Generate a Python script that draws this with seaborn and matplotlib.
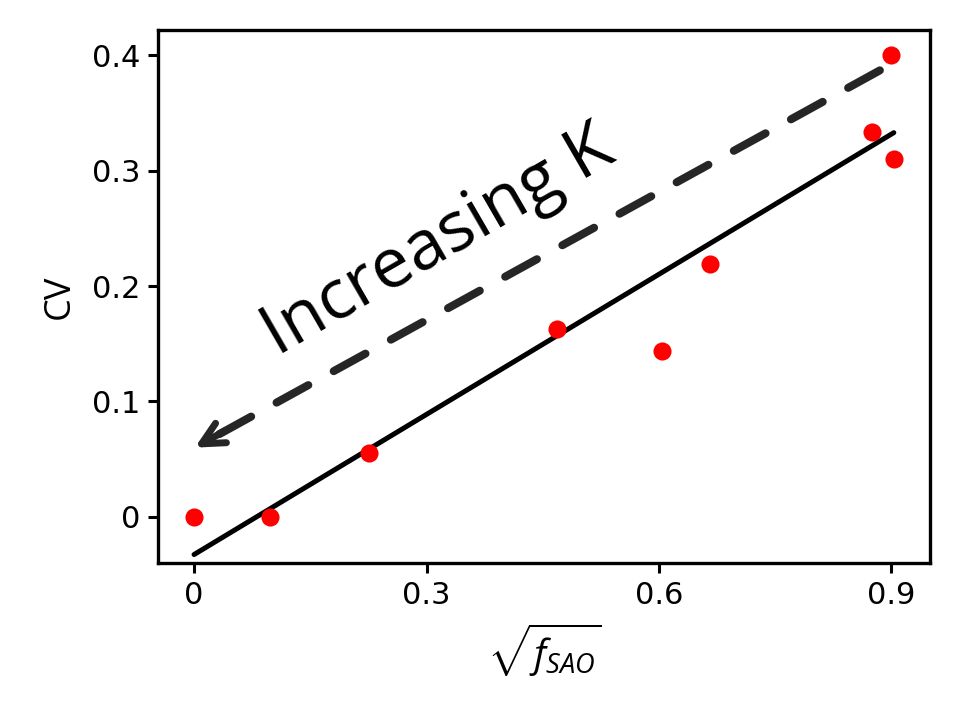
import matplotlib
matplotlib.use('Agg')
import matplotlib.pyplot as plt
import numpy as np
import pandas as pd
import seaborn as sns

##
# values
sqrt_fsao = [0.0, 0.098, 0.226, 0.468, 0.604, 0.666, 0.875, 0.899, 0.903]
cv = [0.0, 0.0, 0.055, 0.163, 0.144, 0.219, 0.334, 0.400, 0.310]

xticks = [0, 0.3, 0.6, 0.9]
xtick_labels = ['0', '0.3', '0.6', '0.9']
yticks = [0, 0.1, 0.2, 0.3, 0.4]
ytick_labels = ['0', '0.1', '0.2', '0.3', '0.4']

arrow_tail = (0.885, 0.387)
arrow_tip = (0.001, 0.060)
label_pos = (0.316, 0.238)

df = pd.DataFrame({'x': sqrt_fsao, 'y': cv})

##
sns.set_style('white')
plt.rcParams['font.family'] = ['DejaVu Sans']
plt.rcParams['text.color'] = 'black'
plt.rcParams['axes.labelcolor'] = 'black'
plt.rcParams['xtick.color'] = 'black'
plt.rcParams['ytick.color'] = 'black'
plt.rcParams['mathtext.fontset'] = 'custom'
plt.rcParams['mathtext.rm'] = 'Open Sans'
plt.rcParams['mathtext.it'] = 'Open Sans:italic'

fig = plt.figure(figsize=(9.6, 7.14), dpi=100)
ax = fig.add_axes([0.165, 0.2115, 0.804, 0.7465])

##
sns.regplot(data=df, x='x', y='y', ax=ax, ci=None,
            scatter_kws={'color': 'red', 's': 170, 'alpha': 1, 'zorder': 3, 'linewidths': 0},
            line_kws={'color': 'black', 'lw': 3.6, 'zorder': 2})

##
ax.set_xlim(-0.046, 0.95)
ax.set_ylim(-0.04, 0.422)
ax.set_xticks(xticks)
ax.set_xticklabels(xtick_labels, fontsize=22)
ax.set_yticks(yticks)
ax.set_yticklabels(ytick_labels, fontsize=22)
ax.tick_params(axis='both', length=7, width=2.2, direction='out',
               bottom=True, left=True, pad=6)
for sp in ax.spines.values() :
  sp.set_linewidth(2.4)
  sp.set_color('black')

ax.set_xlabel(r'$\sqrt{f_{SAO}}$', fontsize=28, labelpad=8)
ax.set_ylabel('CV', fontsize=26, labelpad=10, family=['Open Sans', 'DejaVu Sans'])

##
# dashed shaft plus solid open arrow head
ax.annotate('', xy=arrow_tip, xytext=arrow_tail,
            arrowprops=dict(arrowstyle='-', lw=5.8, color='#262626',
                            linestyle=(0, (4.5, 3.6)), shrinkA=0, shrinkB=10))
ax.annotate('', xy=arrow_tip, xytext=(arrow_tip[0] + 0.04, arrow_tip[1] + 0.015),
            arrowprops=dict(arrowstyle='->, head_length=1.6, head_width=0.8',
                            lw=5, color='#262626', shrinkA=0, shrinkB=0))

ax.text(label_pos[0], label_pos[1], 'Increasing K', rotation=30,
        rotation_mode='anchor', ha='center', va='center', fontsize=50,
        family=['Open Sans', 'DejaVu Sans'], color='black')

##
fig.savefig('out.png', dpi=100)
